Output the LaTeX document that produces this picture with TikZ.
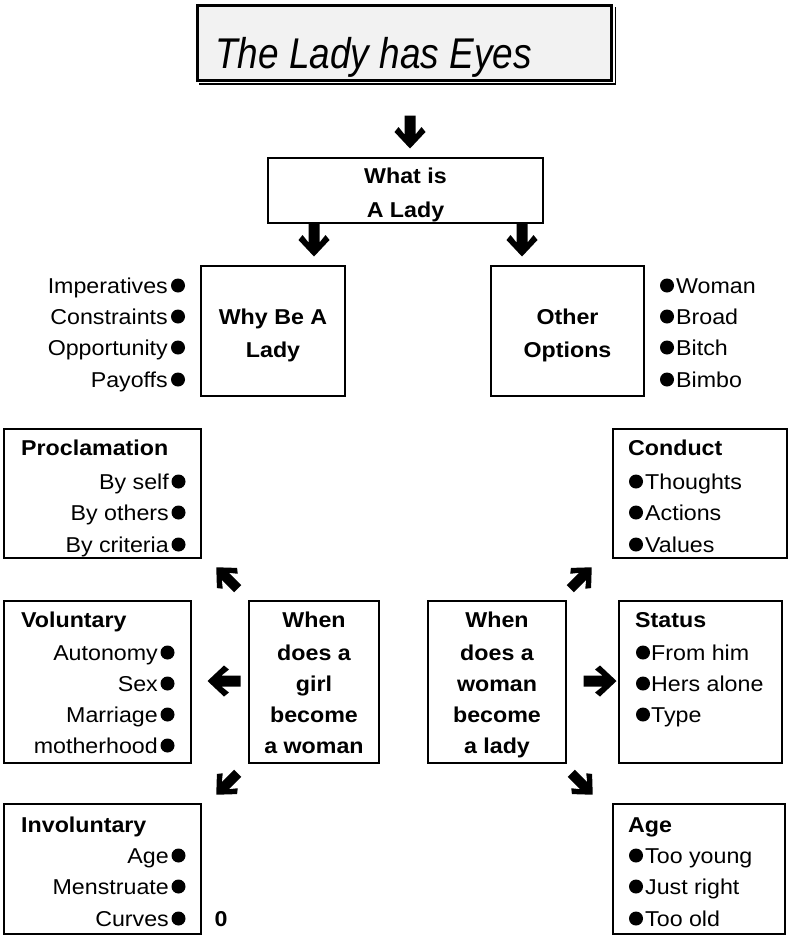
\documentclass[tikz,border=0pt]{standalone}
\usepackage{fontspec}
\setmainfont{Liberation Sans}[FakeStretch=1.08]
\newfontfamily\titlefont{Liberation Sans}[FakeStretch=0.86]
\begin{document}
\begin{tikzpicture}[x=1pt,y=-1pt,
  box/.style={draw, line width=1.8pt, inner sep=0pt},
  txt/.style={inner sep=0pt, font=\fontsize{21.5}{26}\selectfont},
  btxt/.style={inner sep=0pt, font=\fontsize{21.5}{26}\selectfont\bfseries},
  fatarrow/.pic={\fill (-5.5,-16.5) -- (5.5,-16.5) -- (5.5,2.5) -- (11.5,-5) -- (15.5,0) -- (0,16.5) -- (-15.5,0) -- (-11.5,-5) -- (-5.5,2.5) -- cycle;}
]
\useasboundingbox (0,0) rectangle (788,937);

% title
\node[draw, fill=gray!10, line width=3pt, minimum width=414, minimum height=75, inner sep=0pt] (titlebox) at (404.5,42.5) {};
\draw[line width=1.2pt] (titlebox.south west) ++(3,2.5) -| ([xshift=2.5pt,yshift=-3pt]titlebox.north east);
\node[inner sep=0pt, anchor=base west, font=\titlefont\itshape\fontsize{43}{50}\selectfont] (ttl) at (215,68) {The Lady has Eyes};

% boxes
\node[box, minimum width=275, minimum height=65] (what) at (405.5,190.5) {};
\node[box, minimum width=144, minimum height=130] (why) at (273,331) {};
\node[box, minimum width=153, minimum height=130] (other) at (567.5,331) {};
\node[box, minimum width=197, minimum height=129] (procl) at (102.5,493.5) {};
\node[box, minimum width=174, minimum height=129] (conduct) at (700,493.5) {};
\node[box, minimum width=187, minimum height=162] (vol) at (97.5,682) {};
\node[box, minimum width=130, minimum height=162] (girl) at (314,682) {};
\node[box, minimum width=138, minimum height=162] (lady) at (497,682) {};
\node[box, minimum width=163, minimum height=162] (status) at (700.5,682) {};
\node[box, minimum width=197, minimum height=130] (invol) at (102.5,869) {};
\node[box, minimum width=172, minimum height=130] (age) at (699,869) {};

% arrows
\pic at (410,132) {fatarrow};
\pic at (314,240) {fatarrow};
\pic at (522,240) {fatarrow};
\pic[rotate=-135, scale=0.92] at (227,578) {fatarrow};
\pic[rotate=135, scale=0.92] at (581,578) {fatarrow};
\pic[rotate=-90] at (224,681) {fatarrow};
\pic[rotate=90] at (600,681) {fatarrow};
\pic[rotate=-45, scale=0.92] at (227,784) {fatarrow};
\pic[rotate=45, scale=0.92] at (582,784) {fatarrow};

% What is a lady
\node[btxt, anchor=base] (what1) at (405.5,183) {What is};
\node[btxt, anchor=base] (what2) at (405.5,217) {A Lady};
% why
\node[btxt, anchor=base] (why1) at (273,324) {Why Be A};
\node[btxt, anchor=base] (why2) at (273,357) {Lady};
% other
\node[btxt, anchor=base] (oth1) at (567.5,324) {Other};
\node[btxt, anchor=base] (oth2) at (567.5,357) {Options};

% why list
\node[txt, anchor=base east] (w1) at (168,293) {Imperatives};
\node[txt, anchor=base east] (w2) at (168,324) {Constraints};
\node[txt, anchor=base east] (w3) at (168,355) {Opportunity};
\node[txt, anchor=base east] (w4) at (168,387) {Payoffs};
\foreach \yy in {293,324,355,387} \fill (178,\yy-7.5) circle (7pt);

% other list
\node[txt, anchor=base west] (o1) at (676,293) {Woman};
\node[txt, anchor=base west] (o2) at (676,324) {Broad};
\node[txt, anchor=base west] (o3) at (676,355) {Bitch};
\node[txt, anchor=base west] (o4) at (676,387) {Bimbo};
\foreach \yy in {293,324,355,387} \fill (667,\yy-7.5) circle (7pt);

% proclamation
\node[btxt, anchor=base west] (pr0) at (21,455) {Proclamation};
\node[txt, anchor=base east] (pr1) at (169,489) {By self};
\node[txt, anchor=base east] (pr2) at (169,520) {By others};
\node[txt, anchor=base east] (pr3) at (169,552) {By criteria};
\foreach \yy in {489,520,552} \fill (178.5,\yy-7.5) circle (7pt);

% conduct
\node[btxt, anchor=base west] (co0) at (628,455) {Conduct};
\node[txt, anchor=base west] (co1) at (645,489) {Thoughts};
\node[txt, anchor=base west] (co2) at (645,520) {Actions};
\node[txt, anchor=base west] (co3) at (645,552) {Values};
\foreach \yy in {489,520,552} \fill (636,\yy-7.5) circle (7pt);

% voluntary
\node[btxt, anchor=base west] (vo0) at (21,627) {Voluntary};
\node[txt, anchor=base east] (vo1) at (158,660) {Autonomy};
\node[txt, anchor=base east] (vo2) at (158,691) {Sex};
\node[txt, anchor=base east] (vo3) at (158,722) {Marriage};
\node[txt, anchor=base east] (vo4) at (158,753) {motherhood};
\foreach \yy in {660,691,722,753} \fill (167.5,\yy-7.5) circle (7pt);

% girl
\node[btxt, anchor=base] (g1) at (314,627) {When};
\node[btxt, anchor=base] (g2) at (314,660) {does a};
\node[btxt, anchor=base] (g3) at (314,691) {girl};
\node[btxt, anchor=base] (g4) at (314,722) {become};
\node[btxt, anchor=base] (g5) at (314,753) {a woman};

% lady
\node[btxt, anchor=base] (l1) at (497,627) {When};
\node[btxt, anchor=base] (l2) at (497,660) {does a};
\node[btxt, anchor=base] (l3) at (497,691) {woman};
\node[btxt, anchor=base] (l4) at (497,722) {become};
\node[btxt, anchor=base] (l5) at (497,753) {a lady};

% status
\node[btxt, anchor=base west] (st0) at (635,627) {Status};
\node[txt, anchor=base west] (st1) at (651,660) {From him};
\node[txt, anchor=base west] (st2) at (651,691) {Hers alone};
\node[txt, anchor=base west] (st3) at (651,722) {Type};
\foreach \yy in {660,691,722} \fill (643,\yy-7.5) circle (7pt);

% involuntary
\node[btxt, anchor=base west] (in0) at (21,832) {Involuntary};
\node[txt, anchor=base east] (in1) at (169,863) {Age};
\node[txt, anchor=base east] (in2) at (169,894) {Menstruate};
\node[txt, anchor=base east] (in3) at (169,926) {Curves};
\foreach \yy in {863,894,926} \fill (178.5,\yy-7.5) circle (7pt);
\node[btxt, anchor=base] (zero) at (221,926) {0};

% age
\node[btxt, anchor=base west] (ag0) at (628,832) {Age};
\node[txt, anchor=base west] (ag1) at (645,863) {Too young};
\node[txt, anchor=base west] (ag2) at (645,894) {Just right};
\node[txt, anchor=base west] (ag3) at (645,926) {Too old};
\foreach \yy in {863,894,926} \fill (636,\yy-7.5) circle (7pt);
\end{tikzpicture}
\end{document}
